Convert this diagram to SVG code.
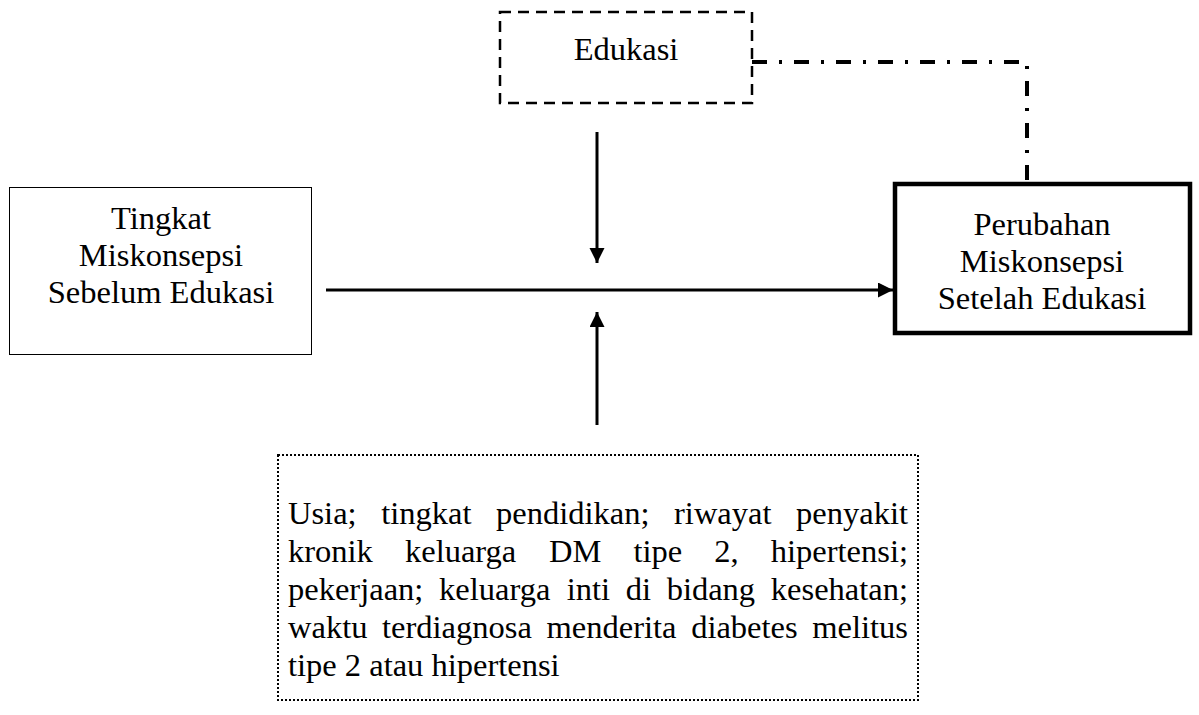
<svg xmlns="http://www.w3.org/2000/svg" width="1199" height="715" viewBox="0 0 1199 715">
<style>
text{font-family:"Liberation Serif","Times New Roman",serif;font-size:32.5px;fill:#000}
.c{text-anchor:middle}
.ln{stroke:#000;stroke-width:3;fill:none}
</style>
<defs>
<marker id="ah" markerUnits="userSpaceOnUse" markerWidth="16" markerHeight="16" refX="15" refY="7.5" orient="auto">
<path d="M0,0 L15,7.5 L0,15 Z" fill="#000"/>
</marker>
</defs>
<rect width="1199" height="715" fill="#fff"/>
<g id="connectors">
<line class="ln" x1="326" y1="290" x2="893" y2="290" marker-end="url(#ah)"/>
<line class="ln" x1="597" y1="132" x2="597" y2="263" marker-end="url(#ah)"/>
<line class="ln" x1="597" y1="425" x2="597" y2="312" marker-end="url(#ah)"/>
<path d="M752,62 H1027 V183" fill="none" stroke="#000" stroke-width="4" stroke-dasharray="15,12,3,12"/>
</g>
<g id="edukasi">
<rect x="500" y="12" width="252" height="91" fill="none" stroke="#000" stroke-width="2.5" stroke-dasharray="11,7"/>
<text class="c" x="626" y="60">Edukasi</text>
</g>
<g id="sebelum">
<rect x="9.5" y="187.5" width="302" height="167" fill="none" stroke="#000" stroke-width="1"/>
<text class="c" x="161" y="229">Tingkat</text>
<text class="c" x="161" y="266">Miskonsepsi</text>
<text class="c" x="161" y="303">Sebelum Edukasi</text>
</g>
<g id="setelah">
<rect x="895" y="184" width="295" height="149" fill="none" stroke="#000" stroke-width="4.5"/>
<text class="c" x="1042" y="235">Perubahan</text>
<text class="c" x="1042" y="272">Miskonsepsi</text>
<text class="c" x="1042" y="309">Setelah Edukasi</text>
</g>
<g id="faktor">
<rect x="278" y="455" width="640" height="245" fill="none" stroke="#000" stroke-width="2" stroke-dasharray="2,2"/>
<text y="524"><tspan x="288">Usia;</tspan><tspan x="381.17">tingkat</tspan><tspan x="496.02">pendidikan;</tspan><tspan x="674.05">riwayat</tspan><tspan x="796.08">penyakit</tspan></text>
<text y="562"><tspan x="288">kronik</tspan><tspan x="404.97">keluarga</tspan><tspan x="548.98">DM</tspan><tspan x="633.45">tipe</tspan><tspan x="714.31">2,</tspan><tspan x="770.80">hipertensi;</tspan></text>
<text y="600"><tspan x="288">pekerjaan;</tspan><tspan x="439.05">keluarga</tspan><tspan x="566.64">inti</tspan><tspan x="625.69">di</tspan><tspan x="666.67">bidang</tspan><tspan x="770.83">kesehatan;</tspan></text>
<text y="638"><tspan x="288">waktu</tspan><tspan x="382.07">terdiagnosa</tspan><tspan x="546.54">menderita</tspan><tspan x="691.15">diabetes</tspan><tspan x="812.29">melitus</tspan></text>
<text x="288" y="676">tipe 2 atau hipertensi</text>
</g>
</svg>
